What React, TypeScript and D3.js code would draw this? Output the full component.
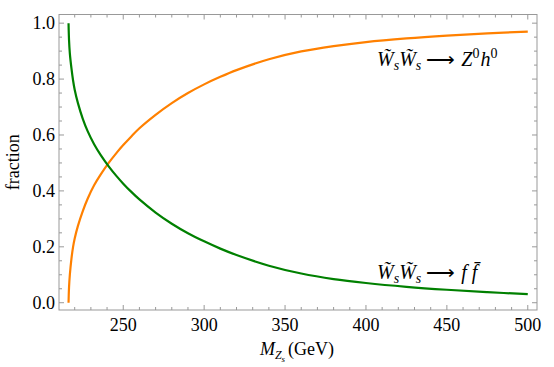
import React from "react";
import * as d3 from "d3";

const masses = [216.2, 216.5, 217, 218, 219, 220, 222, 225, 228, 232, 236, 241, 246, 250, 255, 260, 270, 280, 290, 300, 310, 320, 340, 360, 380, 400, 425, 450, 475, 500];
// W W -> Z0 h0 fraction
const zhFraction = [0, 0.055, 0.1, 0.158, 0.2, 0.23, 0.275, 0.328, 0.372, 0.42, 0.458, 0.5, 0.537, 0.564, 0.595, 0.624, 0.672, 0.714, 0.75, 0.781, 0.808, 0.832, 0.871, 0.899, 0.918, 0.9325, 0.9455, 0.9555, 0.9635, 0.97];
// W W -> f fbar fraction
const ffFraction = [1, 0.94, 0.892, 0.838, 0.795, 0.762, 0.714, 0.658, 0.614, 0.567, 0.529, 0.488, 0.452, 0.426, 0.3965, 0.3695, 0.3225, 0.2825, 0.2485, 0.2195, 0.1935, 0.1705, 0.1325, 0.1045, 0.0845, 0.0705, 0.057, 0.0465, 0.038, 0.0305];

const xMajor = [250, 300, 350, 400, 450, 500];
const xMinor = d3.range(220, 501, 10).filter((v) => v % 50 !== 0);
const yMajor = [0, 0.2, 0.4, 0.6, 0.8, 1.0];
const yMinor = d3.range(0.05, 1.0, 0.05).filter((v) => Math.abs(v * 5 - Math.round(v * 5)) > 1e-6);

const W = 554;
const H = 367;
const left = 59, right = 537, top = 14.5, bottom = 310;

const App = () => {
  const x = d3.scaleLinear().domain([210.3, 505.7]).range([left, right]);
  const y = d3.scaleLinear().domain([-0.026, 1.031]).range([bottom, top]);

  const line = (vals: number[]) =>
    d3
      .line<number>()
      .x((_, i) => x(masses[i]))
      .y((d) => y(d))
      .curve(d3.curveCatmullRom.alpha(0.5))(vals) || "";

  const frameColor = "#999";
  const serif = "'Liberation Serif', 'Times New Roman', serif";

  return (
    <svg width={W} height={H} style={{ position: "absolute", left: 0, top: 0, fontFamily: serif }}>
      <rect x={0} y={0} width={W} height={H} fill="white" />
      <path d={line(zhFraction)} fill="none" stroke="#ff8000" strokeWidth={2.2} />
      <path d={line(ffFraction)} fill="none" stroke="#008000" strokeWidth={2.2} />

      {/* frame */}
      <rect x={left} y={top} width={right - left} height={bottom - top} fill="none" stroke={frameColor} strokeWidth={1} />

      {/* x ticks, bottom and top */}
      {xMajor.map((v) => (
        <g key={"xM" + v}>
          <line x1={x(v)} x2={x(v)} y1={bottom} y2={bottom - 5} stroke={frameColor} />
          <line x1={x(v)} x2={x(v)} y1={top} y2={top + 5} stroke={frameColor} />
          <text x={x(v)} y={331} textAnchor="middle" fontSize={18} fontFamily={serif}>
            {v}
          </text>
        </g>
      ))}
      {xMinor.map((v) => (
        <g key={"xm" + v}>
          <line x1={x(v)} x2={x(v)} y1={bottom} y2={bottom - 3} stroke={frameColor} />
          <line x1={x(v)} x2={x(v)} y1={top} y2={top + 3} stroke={frameColor} />
        </g>
      ))}

      {/* y ticks, left and right */}
      {yMajor.map((v) => (
        <g key={"yM" + v}>
          <line x1={left} x2={left + 5} y1={y(v)} y2={y(v)} stroke={frameColor} />
          <line x1={right} x2={right - 5} y1={y(v)} y2={y(v)} stroke={frameColor} />
          <text x={55} y={y(v) + 6} textAnchor="end" fontSize={18} fontFamily={serif}>
            {v.toFixed(1)}
          </text>
        </g>
      ))}
      {yMinor.map((v) => (
        <g key={"ym" + v}>
          <line x1={left} x2={left + 3} y1={y(v)} y2={y(v)} stroke={frameColor} />
          <line x1={right} x2={right - 3} y1={y(v)} y2={y(v)} stroke={frameColor} />
        </g>
      ))}

      {/* axis labels */}
      <text transform={`translate(19,${(top + bottom) / 2}) rotate(-90)`} textAnchor="middle" fontSize={18} fontFamily={serif}>
        fraction
      </text>
      <text x={297} y={355} textAnchor="middle" fontSize={18} fontFamily={serif}>
        <tspan fontStyle="italic">M</tspan>
        <tspan fontStyle="italic" fontSize={12} dy={4}>Z</tspan>
        <tspan fontStyle="italic" fontSize={9} dy={3}>s</tspan>
        <tspan dy={-7} dx={3}>(GeV)</tspan>
      </text>

      {/* curve annotations */}
      <text x={377} y={66} fontSize={20} fontFamily={serif}>
        <tspan fontStyle="italic">W̃</tspan>
        <tspan fontStyle="italic" fontSize={14} dy={4}>s</tspan>
        <tspan fontStyle="italic" dy={-4}>W̃</tspan>
        <tspan fontStyle="italic" fontSize={14} dy={4}>s</tspan>
        <tspan dy={-4} dx={5}>⟶</tspan>
        <tspan fontStyle="italic" dx={6}>Z</tspan>
        <tspan fontSize={14} dy={-8}>0</tspan>
        <tspan fontStyle="italic" dy={8} dx={1}>h</tspan>
        <tspan fontSize={14} dy={-8}>0</tspan>
      </text>
      <text x={377} y={279} fontSize={20} fontFamily={serif}>
        <tspan fontStyle="italic">W̃</tspan>
        <tspan fontStyle="italic" fontSize={14} dy={4}>s</tspan>
        <tspan fontStyle="italic" dy={-4}>W̃</tspan>
        <tspan fontStyle="italic" fontSize={14} dy={4}>s</tspan>
        <tspan dy={-4} dx={5}>⟶</tspan>
        <tspan fontStyle="italic" dx={6}>f f̄</tspan>
      </text>
    </svg>
  );
};

export default App;
